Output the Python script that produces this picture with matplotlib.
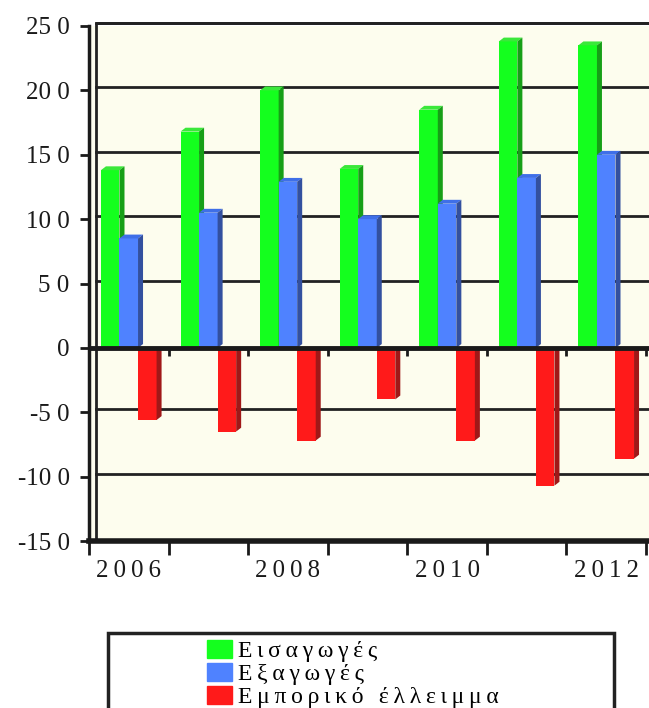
import matplotlib
matplotlib.use("Agg")
import matplotlib.pyplot as plt
import matplotlib.transforms as mtransforms
from matplotlib.patches import Polygon, Rectangle

plt.rcParams['font.family'] = ['Liberation Serif', 'DejaVu Serif']

# data
years = [2006, 2007, 2008, 2009, 2010, 2011, 2012]
imports = [138, 168, 200, 139, 185, 238, 235]
exports = [85, 105, 129, 100, 112, 132, 150]
deficit = [-56, -65, -72, -40, -72, -107, -86]
year_labels = ['2\u20090\u20090\u20096', '2\u20090\u20090\u20098', '2\u20090\u20091\u20090', '2\u20090\u20091\u20092']
ytick_vals = [-150, -100, -50, 0, 50, 100, 150, 200, 250]
ytick_labels = ['-15 0', '-10 0', '-5 0', '0', '5 0', '10 0', '15 0', '20 0', '25 0']
series_names = ['Εισαγωγές', 'Εξαγωγές', 'Εμπορικό έλλειμμα']

colors = ['#14ff1e', '#4f82ff', '#ff1a1a']
side_colors = ['#179f17', '#33509f', '#a01818']
top_colors = ['#3ae83a', '#3f6fe8', '#d82020']

fig = plt.figure(figsize=(6.49, 7.08), dpi=100)
ax = fig.add_axes([89/649, 167/708, 565/649, 515/708])
ax.set_xlim(-0.5, 6.6)
ax.set_ylim(-150, 250)
ax.set_facecolor('#fdfdee')

w = 0.233
dx = 0.063
dy = 3.0


def bar3d(x0, v, k):
    ax.bar(x0, v, width=w, align='edge', color=colors[k], linewidth=0, zorder=3 + k)
    x1 = x0 + w
    if v >= 0:
        side = [(x1, 0), (x1 + dx, dy), (x1 + dx, v + dy), (x1, v)]
        top = [(x0, v), (x0 + dx, v + dy), (x1 + dx, v + dy), (x1, v)]
        ax.add_patch(Polygon(top, closed=True, color=top_colors[k], lw=0, zorder=3 + k))
    else:
        side = [(x1, v), (x1 + dx, v + dy), (x1 + dx, 0), (x1, 0)]
    ax.add_patch(Polygon(side, closed=True, color=side_colors[k], lw=0, zorder=3 + k))


for i in range(len(years)):
    start = i - 0.35
    for k, vals in enumerate([imports, exports, deficit]):
        bar3d(start + k * w, vals[i], k)

# back wall and gridlines, shifted a little for the 3D look
off = mtransforms.ScaledTranslation(0.07, 0.03, fig.dpi_scale_trans)
for v in ytick_vals[1:]:
    if v == 0:
        continue
    ax.plot([0, 1], [v, v], color='#222222', lw=2, transform=ax.get_yaxis_transform() + off,
            clip_on=False, zorder=1)
ax.plot([0, 0, 1.05], [0, 1, 1], color='#222222', lw=2, transform=ax.transAxes + off,
        clip_on=False, zorder=1)

# floor line at zero with its small ticks
ax.axhline(0, color='#1a1a1a', lw=3.5, zorder=8)
ax.vlines([i + 0.5 for i in range(len(years))], 0, -6, color='#1a1a1a', lw=2, zorder=8)

for s in ['top', 'right']:
    ax.spines[s].set_visible(False)
ax.spines['left'].set_linewidth(2.5)
ax.spines['bottom'].set_linewidth(4)
ax.spines['left'].set_color('#1a1a1a')
ax.spines['bottom'].set_color('#1a1a1a')

ax.set_xticks([i - 0.5 for i in range(len(years) + 1)])
ax.set_xticklabels([])
ax.set_xticks([0, 2, 4, 6], minor=True)
ax.set_xticklabels(year_labels, minor=True, fontsize=18, color='#1a1a1a')
ax.tick_params(axis='x', which='major', length=10, width=2, direction='out', color='#1a1a1a')
ax.tick_params(axis='x', which='minor', length=0, pad=14)

ax.set_yticks(ytick_vals)
ax.set_yticklabels(ytick_labels, fontsize=18, color='#1a1a1a')
ax.tick_params(axis='y', length=6.5, width=2, pad=7.5, color='#1a1a1a')

# legend, letters spread with thin spaces as in the original
spaced = ['\u2009'.join(name) for name in series_names]
handles = [Rectangle((0, 0), 1, 1, color=c) for c in colors]
fig.legend(handles, spaced, loc='upper left', bbox_to_anchor=(207/649, 1 - 640/708),
           frameon=False, fontsize=17, handlelength=1.05, handleheight=0.8,
           handletextpad=0.25, labelspacing=0.03, borderpad=0, borderaxespad=0)
fig.add_artist(Rectangle((108/649, -0.05), (614 - 108)/649, (1 - 633/708) + 0.05,
                         transform=fig.transFigure, fill=False, lw=2.5, ec='#222222'))

fig.savefig('out.png', dpi=100, facecolor='white')
